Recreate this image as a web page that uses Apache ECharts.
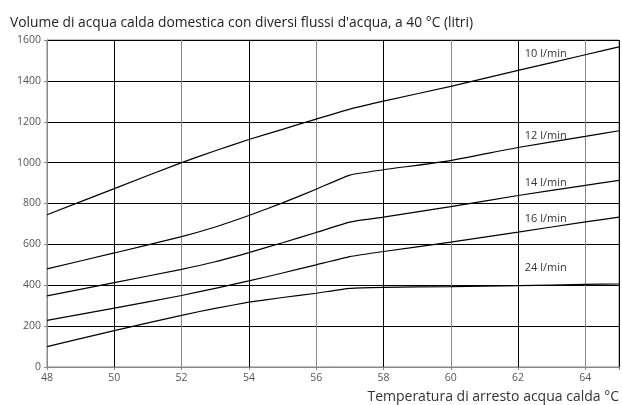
<!DOCTYPE html>
<html><head><meta charset="utf-8">
<script src="https://cdn.jsdelivr.net/npm/echarts@6/dist/echarts.min.js"></script>
<style>html,body{margin:0;padding:0;background:#fff}#c{width:622px;height:405px}</style>
</head><body><div id="c"></div>
<script>
const temps = [48, 50, 52, 53, 54, 55, 56, 57, 58, 60, 62, 64, 65];
const flow10 = [745, 873, 1000, 1058, 1113, 1163, 1213, 1262, 1301, 1373, 1451, 1528, 1566];
const flow12 = [480, 558, 638, 685, 741, 803, 870, 939, 965, 1010, 1074, 1128, 1156];
const flow14 = [348, 413, 478, 515, 560, 608, 658, 709, 733, 785, 839, 889, 913];
const flow16 = [228, 288, 350, 385, 421, 460, 500, 540, 565, 611, 660, 710, 733];
const flow24 = [100, 178, 253, 287, 317, 340, 361, 385, 390, 393, 398, 404, 406];
const seriesNames = ['10 l/min', '12 l/min', '14 l/min', '16 l/min', '24 l/min'];
const labelAt = [[62.2, 1533], [62.2, 1131], [62.2, 901], [62.2, 725], [62.2, 485]];
const xTicks = [48, 50, 52, 54, 56, 58, 60, 62, 64];
const yTicks = [0, 200, 400, 600, 800, 1000, 1200, 1400, 1600];

const allSeries = [flow10, flow12, flow14, flow16, flow24];
const font = '"Open Sans", "Noto Sans", sans-serif';
const chart = echarts.init(document.getElementById('c'));
chart.setOption({
  animation: false,
  title: {
    text: "Volume di acqua calda domestica con diversi flussi d'acqua, a 40 °C (litri)",
    left: 5, top: 11,
    textStyle: { fontFamily: font, fontSize: 13.8, fontWeight: 'normal', color: '#222' }
  },
  grid: { left: 47, right: 1, top: 40, bottom: 38, show: true, borderColor: '#888', borderWidth: 1 },
  xAxis: {
    type: 'value', min: 48, max: 65, interval: 2,
    axisLine: { show: true, lineStyle: { color: '#888' } },
    axisTick: { show: true, length: 3, lineStyle: { color: '#888' } },
    axisLabel: { fontFamily: font, fontSize: 10.5, color: '#555', margin: 6,
      formatter: v => xTicks.includes(v) ? String(v) : '' },
    splitLine: { show: true, lineStyle: { color: ['#888', '#000'], width: 1 } },
    name: 'Temperatura di arresto acqua calda °C',
    nameLocation: 'end', nameGap: 0,
    nameTextStyle: { fontFamily: font, fontSize: 14, color: '#333', align: 'right', verticalAlign: 'top', padding: [23, 0, 0, 0] }
  },
  yAxis: {
    type: 'value', min: 0, max: 1600, interval: 200,
    axisLine: { show: true, lineStyle: { color: '#888' } },
    axisTick: { show: true, length: 3, lineStyle: { color: '#888' } },
    axisLabel: { fontFamily: font, fontSize: 10.5, color: '#555', margin: 6,
      formatter: v => yTicks.includes(v) ? String(v) : '' },
    splitLine: { show: true, lineStyle: { color: '#000', width: 1 } }
  },
  series: allSeries.map((vals, i) => ({
    name: seriesNames[i],
    type: 'line',
    smooth: 0.15,
    symbol: 'none',
    data: temps.map((t, j) => [t, vals[j]]),
    lineStyle: { color: '#000', width: 1.2 },
    markPoint: {
      symbol: 'circle', symbolSize: 0,
      data: [{ coord: labelAt[i], value: seriesNames[i] }],
      label: { show: true, formatter: seriesNames[i], position: 'right', distance: 0,
        fontFamily: font, fontSize: 11, color: '#333' }
    }
  }))
});
</script></body></html>
